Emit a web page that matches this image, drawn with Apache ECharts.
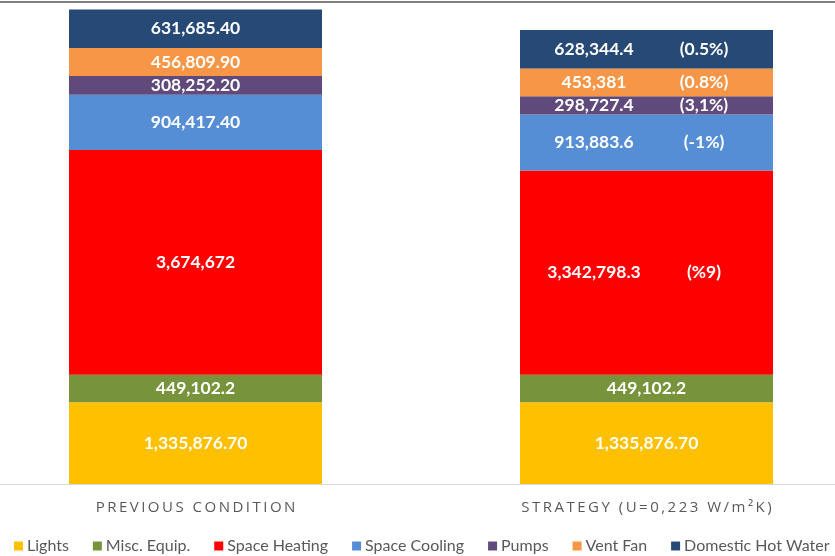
<!DOCTYPE html>
<html>
<head>
<meta charset="utf-8">
<script src="https://cdn.jsdelivr.net/npm/echarts@6/dist/echarts.min.js"></script>
<style>
  html, body { margin: 0; padding: 0; background: #fff; }
  #chart { width: 835px; height: 556px; }
</style>
</head>
<body>
<div id="chart"></div>
<script>
// categories on the x axis
const categories = ['PREVIOUS CONDITION', 'STRATEGY (U=0,223 W/m²K)']

// end uses, bottom to top of the stack
const uses = ['Lights', 'Misc. Equip.', 'Space Heating', 'Space Cooling', 'Pumps', 'Vent Fan', 'Domestic Hot Water']
const colors = ['#FFC000', '#77933C', '#FF0000', '#558ED5', '#604A7B', '#F79646', '#264A75']

// energy per end use
const prevValues = [1335876.7, 449102.2, 3674672, 904417.4, 308252.2, 456809.9, 631685.4]
const stratValues = [1335876.7, 449102.2, 3342798.3, 913883.6, 298727.4, 453381, 628344.4]

// decimals shown in the labels
const prevDecimals = [2, 1, 0, 2, 2, 2, 2]
const stratDecimals = [2, 1, 1, 1, 1, 0, 1]

// change notes shown next to the strategy values
const stratChanges = ['', '', '(%9)', '(-1%)', '(3,1%)', '(0.8%)', '(0.5%)']

function fmt(v, d) {
  return v.toLocaleString('en-US', { minimumFractionDigits: d, maximumFractionDigits: d })
}

// spread letters like the original axis text
function spaced(s) {
  return s.split('').join('\u2009')
}

const labelFont = {
  color: '#fff',
  fontFamily: 'Lato',
  fontWeight: 'bold',
  fontSize: 17.5
}

const series = uses.map(function(name, i) {
  const change = stratChanges[i]
  return {
    name: name,
    type: 'bar',
    stack: 'total',
    barWidth: 253,
    itemStyle: { color: colors[i] },
    label: Object.assign({ show: true, position: 'inside' }, labelFont),
    data: [
      {
        value: prevValues[i],
        label: { formatter: fmt(prevValues[i], prevDecimals[i]) }
      },
      {
        value: stratValues[i],
        label: change ? {
          formatter: '{a|' + fmt(stratValues[i], stratDecimals[i]) + '}{b|' + change + '}',
          rich: {
            a: Object.assign({ width: 115, align: 'center' }, labelFont),
            b: Object.assign({ width: 105, align: 'center' }, labelFont)
          }
        } : { formatter: fmt(stratValues[i], stratDecimals[i]) }
      }
    ]
  }
})

const chart = echarts.init(document.getElementById('chart'))
chart.setOption({
  animation: false,
  backgroundColor: '#fff',
  grid: {
    left: -30,
    right: -37,
    top: 7,
    bottom: 72,
    containLabel: false,
    outerBoundsMode: 'none'
  },
  xAxis: {
    type: 'category',
    data: categories,
    axisLine: { lineStyle: { color: '#d9d9d9', width: 1 } },
    axisTick: { show: false },
    axisLabel: {
      margin: 16,
      color: '#595959',
      fontFamily: 'Open Sans',
      fontSize: 15,
      formatter: spaced
    }
  },
  yAxis: {
    type: 'value',
    min: 0,
    max: 7800000,
    show: false,
    splitLine: { show: false }
  },
  legend: {
    data: uses,
    top: 538,
    left: 14,
    width: 821,
    padding: 0,
    icon: 'rect',
    itemWidth: 9,
    itemHeight: 9,
    itemGap: 24,
    textStyle: { color: '#595959', fontFamily: 'Lato', fontSize: 16, padding: [0, 0, 0, -1] }
  },
  graphic: [
    { type: 'rect', shape: { x: 0, y: 1, width: 835, height: 2 }, style: { fill: '#808080' } }
  ],
  series: series
})
</script>
</body>
</html>
